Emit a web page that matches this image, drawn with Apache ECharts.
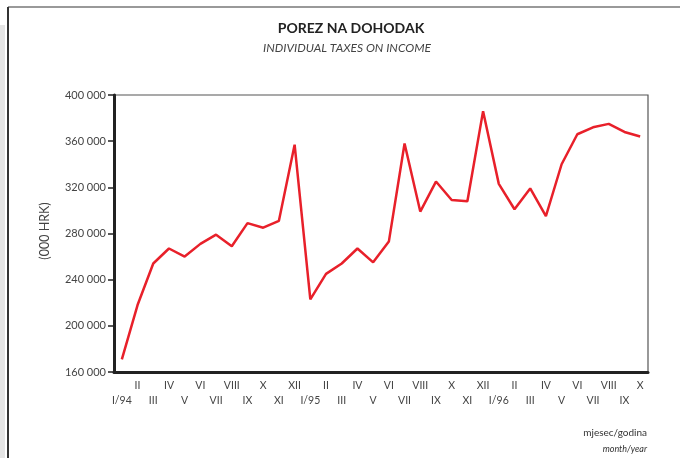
<!DOCTYPE html>
<html>
<head>
<meta charset="utf-8">
<script src="https://cdn.jsdelivr.net/npm/echarts@6/dist/echarts.min.js"></script>
<style>
  html, body { margin: 0; padding: 0; background: #fff; }
  #main { width: 680px; height: 458px; }
</style>
</head>
<body>
<div id="main"></div>
<script>
// months I/94 .. X/96
var months = ['I/94', 'II', 'III', 'IV', 'V', 'VI', 'VII', 'VIII', 'IX', 'X', 'XI', 'XII',
  'I/95', 'II', 'III', 'IV', 'V', 'VI', 'VII', 'VIII', 'IX', 'X', 'XI', 'XII',
  'I/96', 'II', 'III', 'IV', 'V', 'VI', 'VII', 'VIII', 'IX', 'X'];
// porez na dohodak, '000 HRK
var taxValues = [171000, 218000, 254000, 267000, 260000, 271000, 279000, 269000, 289000, 285000, 291000, 357000,
  223000, 245000, 254000, 267000, 255000, 273000, 358000, 299000, 325000, 309000, 308000, 386000,
  323000, 301000, 319000, 295000, 340000, 366000, 372000, 375000, 368000, 364000];
var yMin = 160000, yMax = 400000, yStep = 40000;

var font = 'Lato, "Open Sans", sans-serif';
var chartDom = document.getElementById('main');
var myChart = echarts.init(chartDom);
var option = {
  animation: false,
  textStyle: { fontFamily: font },
  grid: {
    left: 114, right: 32, top: 95, bottom: 86,
    show: true, borderColor: '#555', borderWidth: 1.2
  },
  xAxis: {
    type: 'category',
    boundaryGap: true,
    data: months,
    axisLine: { lineStyle: { color: '#222', width: 3 } },
    axisTick: { show: false },
    axisLabel: {
      interval: 0,
      margin: 6,
      color: '#444',
      fontSize: 10.5,
      lineHeight: 15,
      fontFamily: font,
      formatter: function (v, i) {
        return i % 2 === 1 ? v + '\n' : '\n' + v;
      }
    }
  },
  yAxis: {
    type: 'value',
    min: yMin,
    max: yMax,
    interval: yStep,
    splitLine: { show: false },
    axisLine: { show: true, lineStyle: { color: '#222', width: 3 } },
    axisTick: { show: true, length: 6, lineStyle: { color: '#222', width: 1.5 } },
    axisLabel: {
      margin: 8,
      color: '#444',
      fontSize: 11,
      fontFamily: font,
      formatter: function (v) {
        return String(v).replace(/\B(?=(\d{3})+(?!\d))/g, ' ');
      }
    }
  },
  series: [
    {
      type: 'line',
      data: taxValues,
      symbol: 'none',
      lineStyle: { color: '#e8202a', width: 2.5 }
    }
  ],
  graphic: [
    // page frame
    { type: 'line', shape: { x1: 8, y1: 7, x2: 680, y2: 7 }, style: { stroke: '#777', lineWidth: 1.5 } },
    { type: 'line', shape: { x1: 8, y1: 7, x2: 8, y2: 458 }, style: { stroke: '#333', lineWidth: 2 } },
    { type: 'rect', shape: { x: 0, y: 25, width: 5, height: 433 }, style: { fill: '#e4e4e4' } },
    { type: 'text', style: { x: 351, y: 28, text: 'POREZ NA DOHODAK', font: 'bold 14px ' + font, fill: '#222', textAlign: 'center', textVerticalAlign: 'middle' } },
    { type: 'text', style: { x: 347, y: 48, text: 'INDIVIDUAL TAXES ON INCOME', font: 'italic 12px ' + font, fill: '#444', textAlign: 'center', textVerticalAlign: 'middle' } },
    { type: 'text', rotation: Math.PI / 2, x: 45, y: 231, style: { x: 0, y: 0, text: '(000 HRK)', font: '12.5px ' + font, fill: '#444', textAlign: 'center', textVerticalAlign: 'middle' } },
    { type: 'text', style: { x: 647, y: 433, text: 'mjesec/godina', font: '10px ' + font, fill: '#333', textAlign: 'right', textVerticalAlign: 'middle' } },
    { type: 'text', style: { x: 647, y: 449, text: 'month/year', font: 'italic 9px ' + font, fill: '#333', textAlign: 'right', textVerticalAlign: 'middle' } }
  ]
};
option && myChart.setOption(option);
</script>
</body>
</html>
